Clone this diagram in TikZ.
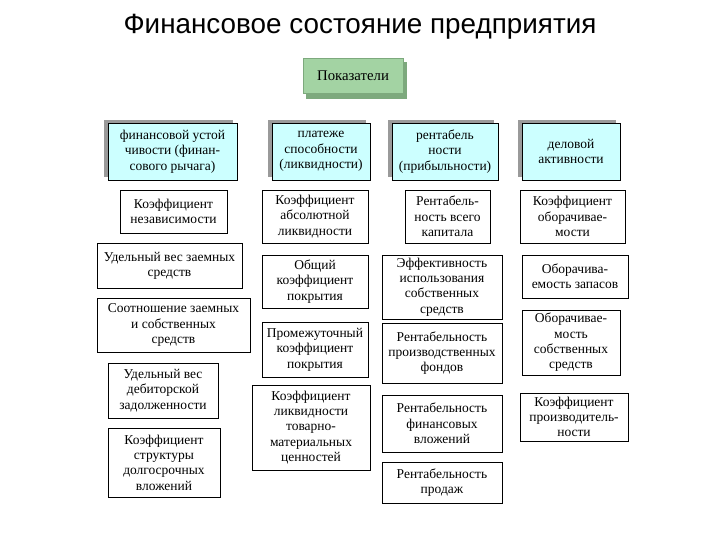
\documentclass[tikz,border=0pt]{standalone}
\usepackage{fontspec}
\setmainfont{Liberation Serif}
\newfontfamily\titlefont{Liberation Sans}
\definecolor{hdrgreen}{HTML}{A3D3A3}
\definecolor{hdrdark}{HTML}{7DA97D}
\definecolor{grpcyan}{HTML}{CCFFFF}
\definecolor{grpshade}{HTML}{9A9A9A}
\tikzset{
  ind/.style={draw, fill=white, line width=0.6pt, align=center, inner sep=1pt,
    font=\fontsize{9.6}{10.9}\selectfont},
  grp/.style={ind, fill=grpcyan},
  hdr/.style={draw=hdrdark, fill=hdrgreen, line width=0.4pt, align=center,
    font=\fontsize{10.5}{12}\selectfont}
}
\begin{document}
\begin{tikzpicture}[x=0.025cm,y=-0.025cm]
\useasboundingbox (0,0) rectangle (720,540);
% title
\node[font=\titlefont\fontsize{19.8}{23}\selectfont] (title) at (360,27) {Финансовое состояние предприятия};
% header block with bevel
\fill[hdrdark] (306,62) rectangle (407,99);
\node[hdr, minimum width=2.5cm, minimum height=0.875cm] (pok) at (353,75.5) {Показатели};
% groups of indicators
\foreach \cx/\w in {172.5/129, 321/98, 445/106, 571/98}
  \fill[grpshade] (\cx-\w/2-4,119.5) rectangle (\cx+\w/2-4,176.5);
\node[grp, minimum width=3.225cm, minimum height=1.425cm] (fin) at (172.5,151.5) {финансовой устой\\чивости (финан-\\сового рычага)};
\node[grp, minimum width=2.45cm, minimum height=1.425cm] (plat) at (321,151.5) {платеже\\способности\\(ликвидности)};
\node[grp, minimum width=2.65cm, minimum height=1.425cm] (rent) at (445,151.5) {рентабель\\ности\\(прибыльности)};
\node[grp, minimum width=2.45cm, minimum height=1.425cm] (del) at (571,151.5) {деловой\\активности};
% financial stability
\node[ind, minimum width=2.675cm, minimum height=1.075cm] (fin1) at (173.5,211.5) {Коэффициент\\независимости};
\node[ind, minimum width=3.625cm, minimum height=1.125cm] (fin2) at (169.5,265.5) {Удельный вес заемных\\средств};
\node[ind, minimum width=3.825cm, minimum height=1.35cm] (fin3) at (173.5,325) {Соотношение заемных\\и собственных\\средств};
\node[ind, minimum width=2.75cm, minimum height=1.375cm] (fin4) at (163,390.5) {Удельный вес\\дебиторской\\задолженности};
\node[ind, minimum width=2.8cm, minimum height=1.725cm] (fin5) at (164,462.5) {Коэффициент\\структуры\\долгосрочных\\вложений};
% liquidity
\node[ind, minimum width=2.65cm, minimum height=1.325cm] (plat1) at (315,216.5) {Коэффициент\\абсолютной\\ликвидности};
\node[ind, minimum width=2.65cm, minimum height=1.325cm] (plat2) at (315,281.5) {Общий\\коэффициент\\покрытия};
\node[ind, minimum width=2.65cm, minimum height=1.375cm] (plat3) at (315,349.5) {Промежуточный\\коэффициент\\покрытия};
\node[ind, minimum width=2.95cm, minimum height=2.125cm] (plat4) at (311,427.5) {Коэффициент\\ликвидности\\товарно-\\материальных\\ценностей};
% profitability
\node[ind, minimum width=2.125cm, minimum height=1.325cm] (rent1) at (447.5,216.5) {Рентабель-\\ность всего\\капитала};
\node[ind, minimum width=3cm, minimum height=1.6cm] (rent2) at (442,287) {Эффективность\\использования\\собственных\\средств};
\node[ind, minimum width=3cm, minimum height=1.5cm] (rent3) at (442,353) {Рентабельность\\производственных\\фондов};
\node[ind, minimum width=3cm, minimum height=1.425cm] (rent4) at (442,423.5) {Рентабельность\\финансовых\\вложений};
\node[ind, minimum width=3cm, minimum height=1.025cm] (rent5) at (442,482.5) {Рентабельность\\продаж};
% business activity
\node[ind, minimum width=2.625cm, minimum height=1.325cm] (del1) at (572.5,216.5) {Коэффициент\\оборачивае-\\мости};
\node[ind, minimum width=2.65cm, minimum height=1.075cm] (del2) at (575,276.5) {Оборачива-\\емость запасов};
\node[ind, minimum width=2.45cm, minimum height=1.625cm] (del3) at (571,342.5) {Оборачивае-\\мость\\собственных\\средств};
\node[ind, minimum width=2.7cm, minimum height=1.2cm] (del4) at (574,417) {Коэффициент\\производитель-\\ности};
\end{tikzpicture}
\end{document}
